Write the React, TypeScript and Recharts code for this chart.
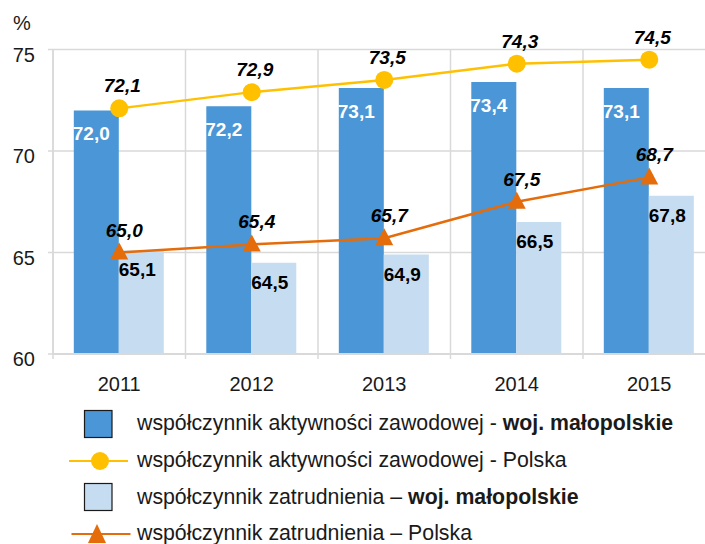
import {
  Bar,
  CartesianGrid,
  ComposedChart,
  LabelList,
  Line,
  XAxis,
  YAxis,
} from 'recharts'

const YEARS = ['2011', '2012', '2013', '2014', '2015']
const AKT_MALOPOLSKIE = [72.0, 72.2, 73.1, 73.4, 73.1]
const AKT_POLSKA = [72.1, 72.9, 73.5, 74.3, 74.5]
const ZATR_MALOPOLSKIE = [65.1, 64.5, 64.9, 66.5, 67.8]
const ZATR_POLSKA = [65.0, 65.4, 65.7, 67.5, 68.7]
const Y_TICKS = [60, 65, 70, 75]

const data = YEARS.map((year, i) => ({
  year,
  aktMal: AKT_MALOPOLSKIE[i],
  aktPl: AKT_POLSKA[i],
  zatrMal: ZATR_MALOPOLSKIE[i],
  zatrPl: ZATR_POLSKA[i],
}))

const DARK_BLUE = '#4A96D6'
const LIGHT_BLUE = '#C6DDF1'
const YELLOW = '#FFC000'
const ORANGE = '#E46C0A'
const GRID = '#D9D9D9'
const TEXT = '#1a1a1a'
const FONT = '"Liberation Sans", Arial, sans-serif'
const NARROW = '"Liberation Sans Narrow", "Arial Narrow", "Liberation Sans", sans-serif'

const CHART_W = 720
const CHART_H = 400
const MARGIN = { top: 49.5, right: 4.5, bottom: 16, left: 0 }
const Y_AXIS_W = 53
const BAND = (CHART_W - MARGIN.left - MARGIN.right - Y_AXIS_W) / YEARS.length

const fmt = (v: number) => v.toFixed(1).replace('.', ',')

function XTick({ x, y, payload, index }: any) {
  const half = BAND / 2
  return (
    <g>
      <line x1={x - half} x2={x - half} y1={y} y2={y + 5} stroke={GRID} strokeWidth={1.5} />
      {index === YEARS.length - 1 && (
        <line x1={x + half} x2={x + half} y1={y} y2={y + 5} stroke={GRID} strokeWidth={1.5} />
      )}
      <text x={x} y={y + 37} textAnchor="middle" fontSize={20} fill={TEXT} fontFamily={FONT}>
        {payload.value}
      </text>
    </g>
  )
}

function YTick({ x, y, payload }: any) {
  return (
    <text x={x} y={y + 12} textAnchor="end" fontSize={20} fill={TEXT} fontFamily={FONT}>
      {payload.value}
    </text>
  )
}

function darkBarLabel({ x, y, width, value }: any) {
  return (
    <text
      x={x + width / 2 - 5}
      y={y + 30}
      textAnchor="middle"
      fontSize={19}
      fontWeight="bold"
      fill="#fff"
      fontFamily={FONT}
    >
      {fmt(value)}
    </text>
  )
}

function lightBarLabel({ x, y, width, value }: any) {
  return (
    <text
      x={x + width / 2 - 4}
      y={y + 26}
      textAnchor="middle"
      fontSize={19}
      fontWeight="bold"
      fill="#000"
      fontFamily={FONT}
    >
      {fmt(value)}
    </text>
  )
}

function lineLabel(dx: number) {
  return ({ x, y, value }: any) => (
    <text
      x={x + dx}
      y={y - 16}
      textAnchor="middle"
      fontSize={19}
      fontWeight="bold"
      fontStyle="italic"
      fill="#000"
      fontFamily={FONT}
    >
      {fmt(value)}
    </text>
  )
}

function CircleDot({ cx, cy, index }: any) {
  return <circle key={index} cx={cx} cy={cy} r={9} fill={YELLOW} />
}

function TriangleDot({ cx, cy, index }: any) {
  return (
    <polygon
      key={index}
      points={`${cx},${cy - 10} ${cx - 9},${cy + 7} ${cx + 9},${cy + 7}`}
      fill={ORANGE}
    />
  )
}

const LEGEND = [
  { kind: 'box', color: DARK_BLUE, text: 'współczynnik aktywności zawodowej - ', bold: 'woj. małopolskie' },
  { kind: 'circle', color: YELLOW, text: 'współczynnik aktywności zawodowej - Polska', bold: '' },
  { kind: 'box', color: LIGHT_BLUE, text: 'współczynnik zatrudnienia – ', bold: 'woj. małopolskie' },
  { kind: 'triangle', color: ORANGE, text: 'współczynnik zatrudnienia – Polska', bold: '' },
]

function LegendIcon({ kind, color }: { kind: string; color: string }) {
  return (
    <svg width={131} height={36} style={{ flexShrink: 0, display: 'block' }}>
      {kind === 'box' && (
        <rect x={84.5} y={4.5} width={27.5} height={27} fill={color} stroke="#1a1a1a" strokeWidth={1.2} />
      )}
      {kind === 'circle' && (
        <>
          <line x1={69} x2={128} y1={18} y2={18} stroke={color} strokeWidth={2} />
          <circle cx={100} cy={18} r={9} fill={color} />
        </>
      )}
      {kind === 'triangle' && (
        <>
          <line x1={71.5} x2={130.5} y1={18} y2={18} stroke={color} strokeWidth={2} />
          <polygon points="97,8 88,27 106,27" fill={color} />
        </>
      )}
    </svg>
  )
}

export default function App() {
  return (
    <div
      style={{
        position: 'fixed',
        left: 0,
        top: 0,
        width: 705,
        height: 544,
        overflow: 'hidden',
        background: '#fff',
        fontFamily: FONT,
      }}
    >
      <div
        style={{ position: 'absolute', left: 13, top: 12, fontSize: 20, color: TEXT }}
      >
        %
      </div>
      <div style={{ position: 'absolute', left: 0, top: 0 }}>
        <ComposedChart
          width={CHART_W}
          height={CHART_H}
          data={data}
          margin={MARGIN}
          barCategoryGap="15.7%"
          barGap={0}
        >
          <CartesianGrid
            stroke={GRID}
            strokeWidth={1.5}
            verticalCoordinatesGenerator={({ offset }: any) =>
              YEARS.map((_, i) => offset.left + i * (offset.width / YEARS.length)).concat(
                offset.left + offset.width,
              )
            }
          />
          <XAxis
            dataKey="year"
            axisLine={{ stroke: GRID, strokeWidth: 2 }}
            tickLine={false}
            tickSize={0}
            tickMargin={0}
            tick={<XTick />}
            interval={0}
          />
          <YAxis
            width={Y_AXIS_W}
            domain={[60, 75]}
            ticks={Y_TICKS}
            allowDataOverflow
            axisLine={{ stroke: GRID, strokeWidth: 1.5 }}
            tickLine={{ stroke: GRID, strokeWidth: 1.5 }}
            tickSize={5}
            tickMargin={13}
            tick={<YTick />}
          />
          <Bar dataKey="aktMal" fill={DARK_BLUE} isAnimationActive={false}>
            <LabelList dataKey="aktMal" content={darkBarLabel} />
          </Bar>
          <Bar dataKey="zatrMal" fill={LIGHT_BLUE} isAnimationActive={false}>
            <LabelList dataKey="zatrMal" content={lightBarLabel} />
          </Bar>
          <Line
            dataKey="aktPl"
            stroke={YELLOW}
            strokeWidth={2.5}
            dot={CircleDot}
            activeDot={false}
            isAnimationActive={false}
          >
            <LabelList dataKey="aktPl" content={lineLabel(3)} />
          </Line>
          <Line
            dataKey="zatrPl"
            stroke={ORANGE}
            strokeWidth={2.5}
            dot={TriangleDot}
            activeDot={false}
            isAnimationActive={false}
          >
            <LabelList dataKey="zatrPl" content={lineLabel(5)} />
          </Line>
        </ComposedChart>
      </div>
      <div style={{ position: 'absolute', left: 0, top: 405.5 }}>
        {LEGEND.map((item) => (
          <div
            key={item.text}
            style={{ display: 'flex', alignItems: 'center', height: 36.7 }}
          >
            <LegendIcon kind={item.kind} color={item.color} />
            <span
              style={{
                marginLeft: 6,
                fontSize: 21.3,
                fontFamily: NARROW,
                color: TEXT,
                whiteSpace: 'nowrap',
              }}
            >
              {item.text}
              {item.bold && <b>{item.bold}</b>}
            </span>
          </div>
        ))}
      </div>
    </div>
  )
}
